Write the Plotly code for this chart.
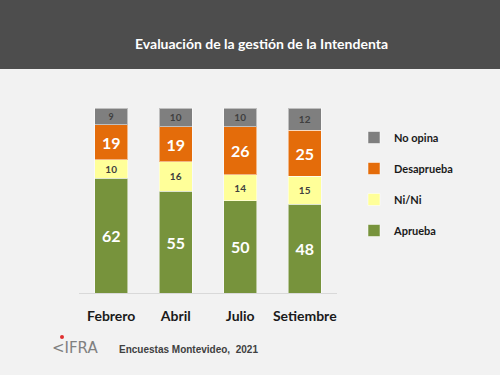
import plotly.graph_objects as go

categories = ["Febrero", "Abril", "Julio", "Setiembre"]
aprueba = [62, 55, 50, 48]
ni_ni = [10, 16, 14, 15]
desaprueba = [19, 19, 26, 25]
no_opina = [9, 10, 10, 12]

W, H = 500, 375
L, R, T, B = 79, 337, 108, 293  # plot area pixel bounds
pw, ph = R - L, B - T

def px(x):
    return (x - L) / pw

def py(y):
    return (B - y) / ph

series = [
    ("Aprueba", aprueba, "#77933c", dict(color="white", size=16, family="Lato", weight="bold")),
    ("Ni/Ni", ni_ni, "#ffff99", dict(color="#404040", size=10, family="Lato", weight="bold")),
    ("Desaprueba", desaprueba, "#e46c0a", dict(color="white", size=16, family="Lato", weight="bold")),
    ("No opina", no_opina, "#7f7f7f", dict(color="#404040", size=10, family="Lato", weight="bold")),
]

fig = go.Figure()
for i, (name, vals, color, tfont) in enumerate(series):
    fig.add_trace(go.Bar(
        x=categories, y=vals, name=name, legendgroup=name,
        legendrank=1000 - i,
        marker=dict(color=color, line=dict(color="rgba(255,255,255,0.5)", width=1)),
        text=vals, textposition="inside", insidetextanchor="middle",
        insidetextfont=tfont, textangle=0,
        hoverinfo="skip",
    ))

fig.update_layout(
    width=W, height=H,
    barmode="stack", bargap=0.49,
    paper_bgcolor="#f2f2f2", plot_bgcolor="#f2f2f2",
    margin=dict(l=L, r=W - R, t=T, b=H - B, pad=0),
    showlegend=True,
    legend=dict(
        x=px(354), y=py(123), xanchor="left", yanchor="top",
        traceorder="grouped", tracegroupgap=12,
        font=dict(family="Lato", size=11, color="#1a1a1a", weight="bold"),
        bgcolor="rgba(0,0,0,0)", itemwidth=30,
    ),
    xaxis=dict(
        showgrid=False, showline=True, linecolor="#d9d9d9", linewidth=1,
        ticks="", tickfont=dict(family="Lato", size=14, color="#1a1a1a", weight="bold"),
        ticklabelstandoff=10, fixedrange=True,
    ),
    yaxis=dict(range=[0, 100], visible=False, fixedrange=True),
)

# Header band
fig.add_shape(type="rect", xref="paper", yref="paper",
              x0=px(0), x1=px(W), y0=py(69), y1=py(0),
              fillcolor="#4d4d4d", line=dict(width=0), layer="below")
fig.add_annotation(xref="paper", yref="paper", x=px(261), y=py(43),
                   text="Evaluación de la gestión de la Intendenta", showarrow=False,
                   font=dict(family="Lato", size=14, color="white", weight="bold"),
                   xanchor="center", yanchor="middle")

# Footer logo and source
fig.add_annotation(xref="paper", yref="paper", x=px(50), y=py(348),
                   text="&lt;IFRA", showarrow=False,
                   font=dict(family="DejaVu Sans", size=15, color="#808080"),
                   xanchor="left", yanchor="middle")
fig.add_shape(type="circle", xref="paper", yref="paper",
              x0=px(60), x1=px(64), y0=py(339), y1=py(335),
              fillcolor="#e03030", line=dict(width=0))
fig.add_annotation(xref="paper", yref="paper", x=px(117), y=py(349),
                   text="Encuestas Montevideo,  2021", showarrow=False,
                   font=dict(family="Liberation Sans", size=10, color="#404040", weight="bold"),
                   xanchor="left", yanchor="middle")

fig.write_html("out.html", config={"displayModeBar": False},
               post_script="document.body.style.margin='0';")
